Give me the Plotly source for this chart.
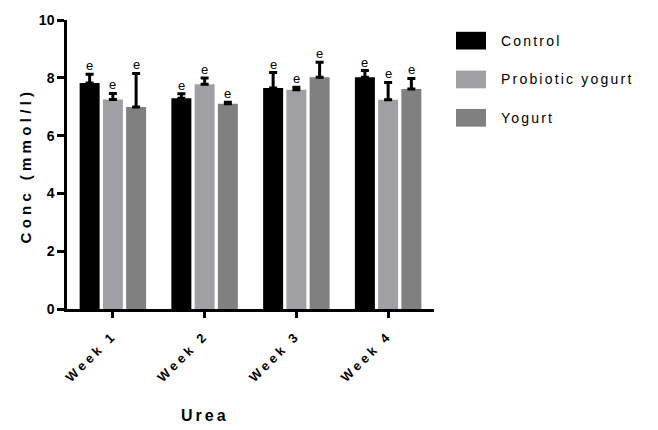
import plotly.graph_objects as go

weeks = ["Week 1", "Week 2", "Week 3", "Week 4"]
series_names = ["Control", "Probiotic yogurt", "Yogurt"]
control = [7.82, 7.29, 7.65, 8.02]
control_err = [0.30, 0.16, 0.53, 0.23]
probiotic = [7.25, 7.78, 7.59, 7.24]
probiotic_err = [0.21, 0.21, 0.08, 0.60]
yogurt = [6.99, 7.10, 8.02, 7.61]
yogurt_err = [1.16, 0.05, 0.52, 0.37]
sig_label = "e"
colors = ["#000000", "#a0a0a4", "#808080"]
y_ticks = [0, 2, 4, 6, 8, 10]

FONT = "Liberation Sans, Arial, sans-serif"
BARGAP = 0.24
BARGROUPGAP = 0.14


def sp(text, px=2):
    return f'<span style="letter-spacing:{px}px">{text}</span>'


fig = go.Figure()
all_vals = [control, probiotic, yogurt]
all_errs = [control_err, probiotic_err, yogurt_err]
n = len(series_names)
slot = (1 - BARGAP) / n
for k, (name, vals, errs, col) in enumerate(zip(series_names, all_vals, all_errs, colors)):
    fig.add_trace(go.Bar(
        x=weeks, y=vals, name=name,
        marker=dict(color=col, line=dict(width=0)),
        error_y=dict(type="data", array=errs, arrayminus=[0] * len(errs),
                     symmetric=False, color="black", thickness=3, width=4),
        showlegend=False,
    ))
    # significance letters above error bars
    off = (k - (n - 1) / 2) * slot
    for i, (v, e) in enumerate(zip(vals, errs)):
        fig.add_annotation(x=i + off, y=v + e, xref="x", yref="y",
                           text=sig_label, showarrow=False,
                           yanchor="bottom", yshift=-1,
                           font=dict(family=FONT, size=13, color="black"))

fig.update_layout(
    barmode="group",
    bargap=BARGAP,
    bargroupgap=BARGROUPGAP,
    width=658, height=430,
    margin=dict(l=67, r=224, t=15, b=121),
    plot_bgcolor="white", paper_bgcolor="white",
    font=dict(family=FONT, color="black"),
    xaxis=dict(
        range=[-0.5, 3.5], showline=True, linecolor="black", linewidth=2.5,
        ticks="outside", ticklen=6, tickwidth=2.5, tickcolor="black",
        tickangle=-45, ticklabelstandoff=5,
        tickvals=weeks,
        ticktext=[f"<b>{sp(w, 3.5)}</b>" for w in weeks],
        tickfont=dict(family=FONT, size=13, color="black"),
        showgrid=False, zeroline=False,
    ),
    yaxis=dict(
        range=[0, 10], showline=True, linecolor="black", linewidth=2.5,
        ticks="outside", ticklen=7, tickwidth=2.5, tickcolor="black",
        tickvals=y_ticks, ticktext=[f"<b>{t}</b>" for t in y_ticks],
        tickfont=dict(family=FONT, size=14, color="black"),
        showgrid=False, zeroline=False,
    ),
)

# axis titles
fig.add_annotation(text=f"<b>{sp('Urea', 3)}</b>", xref="paper", yref="paper",
                   x=(205 - 67) / (434 - 67), y=-(417 - 309) / (309 - 15),
                   showarrow=False, font=dict(family=FONT, size=16, color="black"),
                   xanchor="center", yanchor="middle")
fig.add_annotation(text=f"<b>{sp('Conc (mmol/l)', 4.3)}</b>", xref="paper", yref="paper",
                   x=-(67 - 25) / (434 - 67), y=(309 - 163) / (309 - 15),
                   showarrow=False, textangle=-90,
                   font=dict(family=FONT, size=15, color="black"),
                   xanchor="center", yanchor="middle")

# legend
legend_y = [36, 75.5, 114.5]
for name, col, yc in zip(series_names, colors, legend_y):
    fig.add_shape(type="rect", xref="paper", yref="paper",
                  x0=(456 - 67) / 367, x1=(486 - 67) / 367,
                  y0=(309 - yc - 9) / 294, y1=(309 - yc + 9) / 294,
                  fillcolor=col, line=dict(width=0))
    fig.add_annotation(text=sp(name, 2.2), xref="paper", yref="paper",
                       x=(499 - 67) / 367, y=(309 - yc) / 294,
                       xanchor="left", yanchor="middle", showarrow=False,
                       font=dict(family=FONT, size=14, color="black"))

fig.write_html("out.html")
